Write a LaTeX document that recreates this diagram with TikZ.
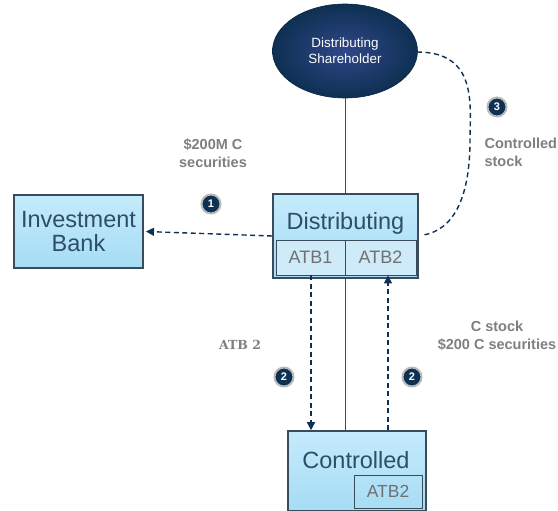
\documentclass[tikz,border=0pt]{standalone}
\usepackage{fontspec}
\setmainfont{Liberation Sans}
\newfontfamily\serifl{DejaVu Serif}
\usetikzlibrary{arrows.meta,shapes.geometric}
\definecolor{navy}{HTML}{0E3052}
\definecolor{edge}{HTML}{3A4B5C}
\definecolor{boxtxt}{HTML}{2E4D66}
\definecolor{lbl}{HTML}{7F7F7F}
\definecolor{atbtxt}{HTML}{707070}
\definecolor{boxtop}{HTML}{C4EBFC}
\definecolor{boxbot}{HTML}{A6DCF4}
\definecolor{subfill}{HTML}{CFEAF8}
\tikzset{
  bigbox/.style={rectangle, draw=edge, line width=1.6pt, top color=boxtop, bottom color=boxbot, inner sep=0pt},
  subbox/.style={rectangle, draw=edge, line width=0.9pt, fill=subfill, inner sep=0pt, text=atbtxt, font=\fontsize{18}{20}\selectfont},
  boxlabel/.style={text=boxtxt, font=\fontsize{23.5}{27}\selectfont, align=center},
  lab/.style={text=lbl, font=\fontsize{14.5}{18}\selectfont\bfseries, align=center},
  num/.style={circle, fill=navy, draw=gray!55, line width=2pt, minimum size=19pt, inner sep=0pt, text=white, font=\fontsize{11}{11}\selectfont\bfseries},
  flow/.style={draw=navy, line width=1.4pt, dash pattern=on 5pt off 3.5pt},
  solidl/.style={draw=edge, line width=0.9pt},
  tip/.style={-{Triangle[length=8pt,width=8pt]}},
}
\begin{document}
\begin{tikzpicture}[x=1pt,y=-1pt]
\useasboundingbox (0,0) rectangle (558,511);
% shareholder
\node[ellipse, minimum width=145pt, minimum height=94pt, inner sep=0pt, draw=navy!80!black, line width=0.6pt,
      inner color=navy!80!blue!85!white, outer color=navy, text=white, align=center,
      font=\fontsize{13.4}{16}\selectfont] (sh) at (345,51) {Distributing\\Shareholder};
% distributing box
\node[bigbox, minimum width=145pt, minimum height=84pt] (dist) at (345.5,236) {};
\node[boxlabel] (distt) at (345.5,223) {Distributing};
\node[subbox, minimum width=69pt, minimum height=35pt] (atb1) at (310.5,257.5) {ATB1};
\node[subbox, minimum width=71pt, minimum height=35pt] (atb2) at (380.5,257.5) {ATB2};
% investment bank
\node[bigbox, minimum width=129pt, minimum height=73pt, boxlabel] (ib) at (78.5,231.5) {Investment\\[-3pt]Bank};
% controlled
\node[bigbox, minimum width=138pt, minimum height=80pt] (ctrl) at (357,471) {};
\node[boxlabel] (ctrlt) at (356,460) {Controlled};
\node[subbox, fill=none, minimum width=68pt, minimum height=33pt, font=\fontsize{17.5}{19}\selectfont] (atbc) at (388,491.5) {ATB2};
% solid ownership lines
\draw[solidl] (sh.south) -- (sh.south |- dist.north);
\draw[solidl] (dist.south) -- (dist.south |- ctrl.north);
% step 1
\draw[flow, tip] (dist.west) -- (ib.east -| 146,0) coordinate (ibend);
\node[num] (n1) at (211,204) {1};
\node[lab] (l1) at (213,153) {\$200M C\\securities};
% step 2
\coordinate (xa) at (311,0);
\coordinate (xb) at (388,0);
\draw[flow, tip] (atb1.south -| xa) -- (ctrl.north -| xa);
\draw[flow, tip] (ctrl.north -| xb) -- (atb2.south -| xb);
\node[num] (n2a) at (284,377) {2};
\node[num] (n2b) at (412,377) {2};
\node[text=lbl, font=\serifl\fontsize{12.5}{14}\selectfont\bfseries] (l2a) at (240,345) {ATB 2};
\node[lab] (l2b) at (497,335.5) {C stock\\\$200 C securities};
% step 3
\coordinate (c3s) at (417,52);
\coordinate (c3e) at (423,235);
\draw[flow] (c3s) .. controls (478,52) and (470,105) .. (470,140) .. controls (470,195) and (455,230) .. (c3e);
\node[num] (n3) at (497,107) {3};
\node[lab, align=left, anchor=west] (l3) at (481,152.5) {Controlled\\stock};
\end{tikzpicture}
\end{document}
